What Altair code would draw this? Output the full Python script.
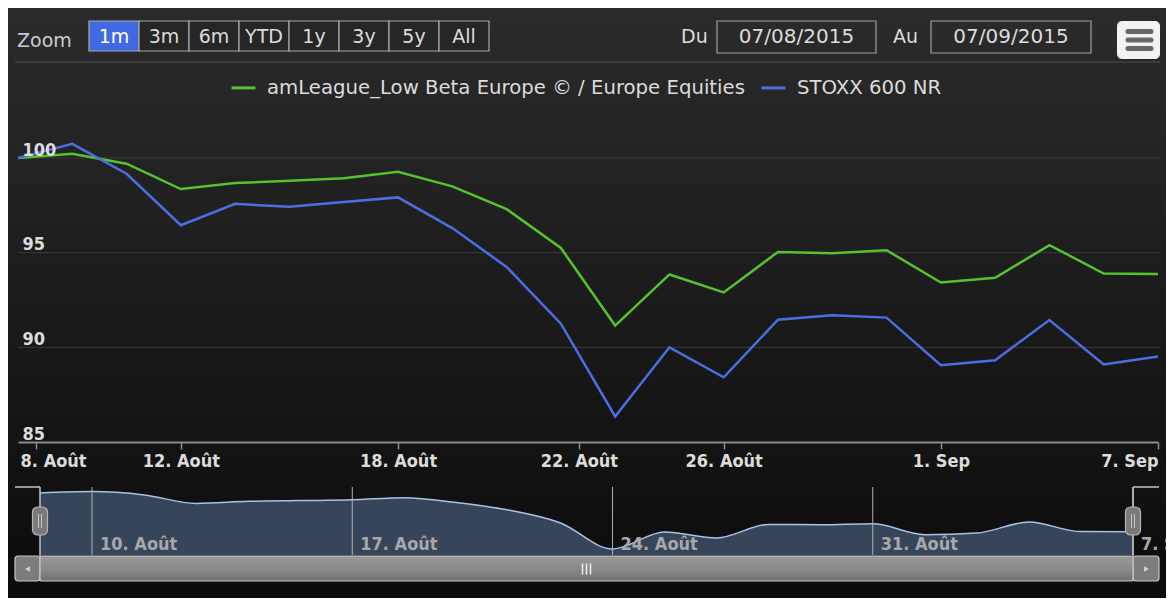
import altair as alt
import pandas as pd
from datetime import date

# ------------------------------------------------------------------ data
DATES = ["2015-08-07", "2015-08-10", "2015-08-11", "2015-08-12", "2015-08-13", "2015-08-14",
         "2015-08-17", "2015-08-18", "2015-08-19", "2015-08-20", "2015-08-21",
         "2015-08-24", "2015-08-25", "2015-08-26", "2015-08-27", "2015-08-28",
         "2015-08-31", "2015-09-01", "2015-09-02", "2015-09-03", "2015-09-04", "2015-09-07"]
SERIES_A = "amLeague_Low Beta Europe © / Europe Equities"
SERIES_B = "STOXX 600 NR"
VALUES_A = [100.0, 100.22, 99.7, 98.36, 98.68, 98.8, 98.93, 99.27, 98.5, 97.3, 95.25,
            91.15, 93.85, 92.9, 95.04, 94.97, 95.13, 93.42, 93.67, 95.4, 93.9, 93.88]
VALUES_B = [100.0, 100.75, 99.17, 96.45, 97.58, 97.42, 97.68, 97.92, 96.3, 94.25, 91.25,
            86.35, 90.0, 88.42, 91.46, 91.7, 91.57, 89.06, 89.32, 91.44, 89.1, 89.52]

AXIS_TICK_DATES = ["2015-08-08", "2015-08-12", "2015-08-18", "2015-08-22",
                   "2015-08-26", "2015-09-01", "2015-09-07"]
AXIS_TICK_LABELS = ["8. Août", "12. Août", "18. Août", "22. Août", "26. Août", "1. Sep", "7. Sep"]
NAV_TICK_DATES = ["2015-08-10", "2015-08-17", "2015-08-24", "2015-08-31", "2015-09-07"]
NAV_TICK_LABELS = ["10. Août", "17. Août", "24. Août", "31. Août", "7. Sep"]
Y_TICKS = [85, 90, 95, 100]
Y_DOMAIN = [85, 102.8]
NAV_Y_DOMAIN = [90.2, 100.95]

RANGE_BUTTONS = ["1m", "3m", "6m", "YTD", "1y", "3y", "5y", "All"]
SELECTED_BUTTON = "1m"
ZOOM_LABEL = "Zoom"
FROM_LABEL, TO_LABEL = "Du", "Au"
DATE_FROM, DATE_TO = "07/08/2015", "07/09/2015"

# ------------------------------------------------------------------ styles
GREEN = "#56c22f"
BLUE = "#4a6fe3"
TXT = "#dcdcdc"
FONT = "DejaVu Sans"
AXFONT = "DejaVu Sans Condensed"
W, H = 1158, 590


def parse(s):
    y, m, d = map(int, s.split("-"))
    return date(y, m, d)


trade = [parse(s) for s in DATES]
N = len(trade)


def ordinal_pos(s):
    d = parse(s)
    for i in range(N - 1):
        if trade[i] <= d <= trade[i + 1]:
            return i + (d - trade[i]).days / (trade[i + 1] - trade[i]).days
    return float(N - 1)


tick_pos = [round(ordinal_pos(s), 4) for s in AXIS_TICK_DATES]
label_expr = ("[" + ",".join(f"'{l}'" for l in AXIS_TICK_LABELS) + "][indexof(["
              + ",".join(str(round(p * 1000)) for p in tick_pos)
              + "], round(datum.value*1000))]")

lines_df = pd.DataFrame({
    "idx": list(range(N)) * 2,
    "series": [SERIES_A] * N + [SERIES_B] * N,
    "value": VALUES_A + VALUES_B,
})
nav_df = pd.DataFrame({"idx": list(range(N)), "value": VALUES_A})
nav_ticks_df = pd.DataFrame({"pos": [ordinal_pos(s) for s in NAV_TICK_DATES],
                             "label": NAV_TICK_LABELS})
buttons_df = pd.DataFrame({"b": RANGE_BUTTONS})
ygrid_df = pd.DataFrame({"v": Y_TICKS[1:]})

main_x_scale = alt.Scale(domain=[0, N - 1], range=[10, 1150], nice=False, zero=False)
main_y_scale = alt.Scale(domain=Y_DOMAIN, range=[434, 97], nice=False, zero=False)
nav_x_scale = alt.Scale(domain=[0, N - 1], range=[32, 1125], nice=False, zero=False)
nav_y_scale = alt.Scale(domain=NAV_Y_DOMAIN, range=[547, 479], nice=False, zero=False)

one = alt.Data(values=[{}])


def rule(x, x2, y, y2, color, width=1.0, cap="butt"):
    return alt.Chart(one).mark_rule(color=color, strokeWidth=width, strokeCap=cap).encode(
        x=alt.value(x), x2=alt.value(x2), y=alt.value(y), y2=alt.value(y2))


def box(x, x2, y, y2, **kw):
    return alt.Chart(one).mark_rect(**kw).encode(
        x=alt.value(x), x2=alt.value(x2), y=alt.value(y), y2=alt.value(y2))


def label(txt, x, y, size=19, color=TXT, align="left", font=FONT, weight="normal"):
    return alt.Chart(pd.DataFrame({"t": [txt]})).mark_text(
        align=align, baseline="middle", fontSize=size, color=color, font=font,
        fontWeight=weight).encode(x=alt.value(x), y=alt.value(y), text="t:N")


# ------------------------------------------------------------------ background
bg = box(0, W, 0, H, fill=alt.Gradient(
    gradient="linear", x1=0, x2=0, y1=0, y2=1,
    stops=[alt.GradientStop(color="#2b2b2b", offset=0),
           alt.GradientStop(color="#1b1b1b", offset=0.5),
           alt.GradientStop(color="#0b0b0b", offset=1)]))

# ------------------------------------------------------------------ header
zoom_txt = label(ZOOM_LABEL, 9, 33, color="#c8ccd4")
btn_x = alt.X("b:N", scale=alt.Scale(domain=RANGE_BUTTONS, range=[81, 481],
                                     paddingInner=0, paddingOuter=0), axis=None)
btn_rect = alt.Chart(buttons_df).mark_rect(stroke="#a8a8a8", strokeWidth=1.2).encode(
    x=btn_x, y=alt.value(13), y2=alt.value(43),
    fill=alt.condition(f"datum.b == '{SELECTED_BUTTON}'", alt.value("#4169e1"), alt.value("#262626")))
btn_txt = alt.Chart(buttons_df).mark_text(baseline="middle", fontSize=19, font=FONT).encode(
    x=btn_x, y=alt.value(29), text="b:N",
    color=alt.condition(f"datum.b == '{SELECTED_BUTTON}'", alt.value("#ffffff"), alt.value(TXT)))

du_txt = label(FROM_LABEL, 673, 29)
au_txt = label(TO_LABEL, 885, 29)
box1 = box(709, 868, 13, 45, filled=False, stroke="#a0a0a0", strokeWidth=1.2)
box2 = box(923, 1083, 13, 45, filled=False, stroke="#a0a0a0", strokeWidth=1.2)
d1 = label(DATE_FROM, 788.5, 29, size=20, align="center")
d2 = label(DATE_TO, 1003, 29, size=20, align="center")
menu_bg = box(1109, 1152, 13, 51, fill="#f2f2f2", cornerRadius=5)
menu_bars = [rule(1120, 1143, yy, yy, "#666666", 5, "round") for yy in (23.5, 32, 40.5)]
sep = rule(7, 1152, 54, 54, "#3b3b3b", 2)

# ------------------------------------------------------------------ main plot
ygrid = alt.Chart(ygrid_df).mark_rule(color="#3a3a3a", strokeWidth=1).encode(
    y=alt.Y("v:Q", scale=main_y_scale, axis=None), x=alt.value(10), x2=alt.value(1152))

main = alt.Chart(lines_df).mark_line(strokeWidth=2.5).encode(
    x=alt.X("idx:Q", scale=main_x_scale, axis=alt.Axis(
        orient="bottom", offset=-(H - 434), values=tick_pos, labelExpr=label_expr,
        domainColor="#8c8c8c", domainWidth=2, tickColor="#8c8c8c", tickSize=7, tickWidth=1.5,
        labelColor=TXT, labelFont=AXFONT, labelFontSize=18, labelFontWeight="bold",
        labelPadding=3, labelFlush=True,
        labelOffset={"condition": {"test": "datum.value < 1", "value": 17}, "value": 0},
        grid=False, title=None, zindex=2)),
    y=alt.Y("value:Q", scale=main_y_scale, axis=alt.Axis(
        orient="left", values=Y_TICKS, domain=False, ticks=False, tickSize=0,
        labelAlign="left", labelPadding=-14, labelBaseline="alphabetic", labelOffset=-3,
        labelColor=TXT, labelFont=AXFONT, labelFontSize=18, labelFontWeight="bold",
        grid=False, title=None, zindex=2)),
    color=alt.Color("series:N", scale=alt.Scale(domain=[SERIES_A, SERIES_B], range=[GREEN, BLUE]),
                    legend=alt.Legend(orient="none", legendX=222, legendY=66, direction="horizontal",
                                      title=None, symbolType="stroke", symbolSize=576,
                                      symbolStrokeWidth=3, labelFontSize=19.7, labelFont=FONT,
                                      labelColor=TXT, labelLimit=900, columnPadding=10,
                                      labelOffset=10, padding=0, zindex=2)),
)

# ------------------------------------------------------------------ navigator
nav_area = alt.Chart(nav_df).mark_area(interpolate="monotone", color="#36455a", opacity=1).encode(
    x=alt.X("idx:Q", scale=nav_x_scale, axis=None),
    y=alt.Y("value:Q", scale=nav_y_scale, axis=None),
    y2=alt.datum(NAV_Y_DOMAIN[0]))
nav_line = alt.Chart(nav_df).mark_line(interpolate="monotone", color="#a9c3e6", strokeWidth=1.5).encode(
    x=alt.X("idx:Q", scale=nav_x_scale, axis=None),
    y=alt.Y("value:Q", scale=nav_y_scale, axis=None))
nav_grid = alt.Chart(nav_ticks_df).mark_rule(color="#b0b0b0", strokeWidth=1).encode(
    x=alt.X("pos:Q", scale=nav_x_scale, axis=None), y=alt.value(479), y2=alt.value(547))
nav_lab = alt.Chart(nav_ticks_df).mark_text(
    align="left", baseline="alphabetic", dx=8, fontSize=18, font=AXFONT, fontWeight="bold",
    color="#a8a8a8").encode(
    x=alt.X("pos:Q", scale=nav_x_scale, axis=None), y=alt.value(542), text="label:N")

outline = [rule(7, 32, 479, 479, "#c4c4c4", 1.5), rule(32, 32, 479, 548, "#c4c4c4", 1.5),
           rule(1125, 1125, 479, 548, "#c4c4c4", 1.5), rule(1125, 1151, 479, 479, "#c4c4c4", 1.5)]
handles = []
for cx in (32, 1125):
    handles.append(box(cx - 7.5, cx + 7.5, 499, 527, fill="#7a7a7a", stroke="#b4b4b4",
                       strokeWidth=1.2, cornerRadius=5))
    handles.append(rule(cx - 1.5, cx - 1.5, 506, 520, "#c8c8c8", 1))
    handles.append(rule(cx + 1.5, cx + 1.5, 506, 520, "#c8c8c8", 1))

# ------------------------------------------------------------------ scrollbar
thumb = box(32, 1125, 548, 573, fill=alt.Gradient(
    gradient="linear", x1=0, x2=0, y1=0, y2=1,
    stops=[alt.GradientStop(color="#9a9a9a", offset=0),
           alt.GradientStop(color="#878787", offset=0.6),
           alt.GradientStop(color="#707070", offset=1)]),
    stroke="#c8c8c8", strokeWidth=1.2, cornerRadius=2)
lbtn = box(7, 32, 548, 573, fill="#7c7c7c", stroke="#c8c8c8", strokeWidth=1.2, cornerRadius=3)
rbtn = box(1125, 1151, 548, 573, fill="#7c7c7c", stroke="#c8c8c8", strokeWidth=1.2, cornerRadius=3)
arrow_l = alt.Chart(one).mark_point(filled=True, size=28, color="#d4d4d4", opacity=1,
                                    shape="triangle-left").encode(x=alt.value(19.5), y=alt.value(561))
arrow_r = alt.Chart(one).mark_point(filled=True, size=28, color="#d4d4d4", opacity=1,
                                    shape="triangle-right").encode(x=alt.value(1138.5), y=alt.value(561))
grip = [rule(gx, gx, 555.5, 566.5, "#eeeeee", 1.5) for gx in (574.5, 578.5, 582.5)]

layers = ([bg, sep, zoom_txt, btn_rect, btn_txt, du_txt, au_txt, box1, box2, d1, d2, menu_bg]
          + menu_bars + [ygrid, main, nav_area, nav_line, nav_grid, nav_lab] + outline + handles
          + [lbtn, rbtn, thumb, arrow_l, arrow_r] + grip)

chart = alt.layer(*layers).resolve_scale(
    x="independent", y="independent"
).properties(
    width=W, height=H, padding=0, background="#0c0c0c",
    autosize=alt.AutoSizeParams(type="none"),
).configure_view(stroke="transparent")

chart.save("out.html", embed_options={"renderer": "svg", "actions": False})
